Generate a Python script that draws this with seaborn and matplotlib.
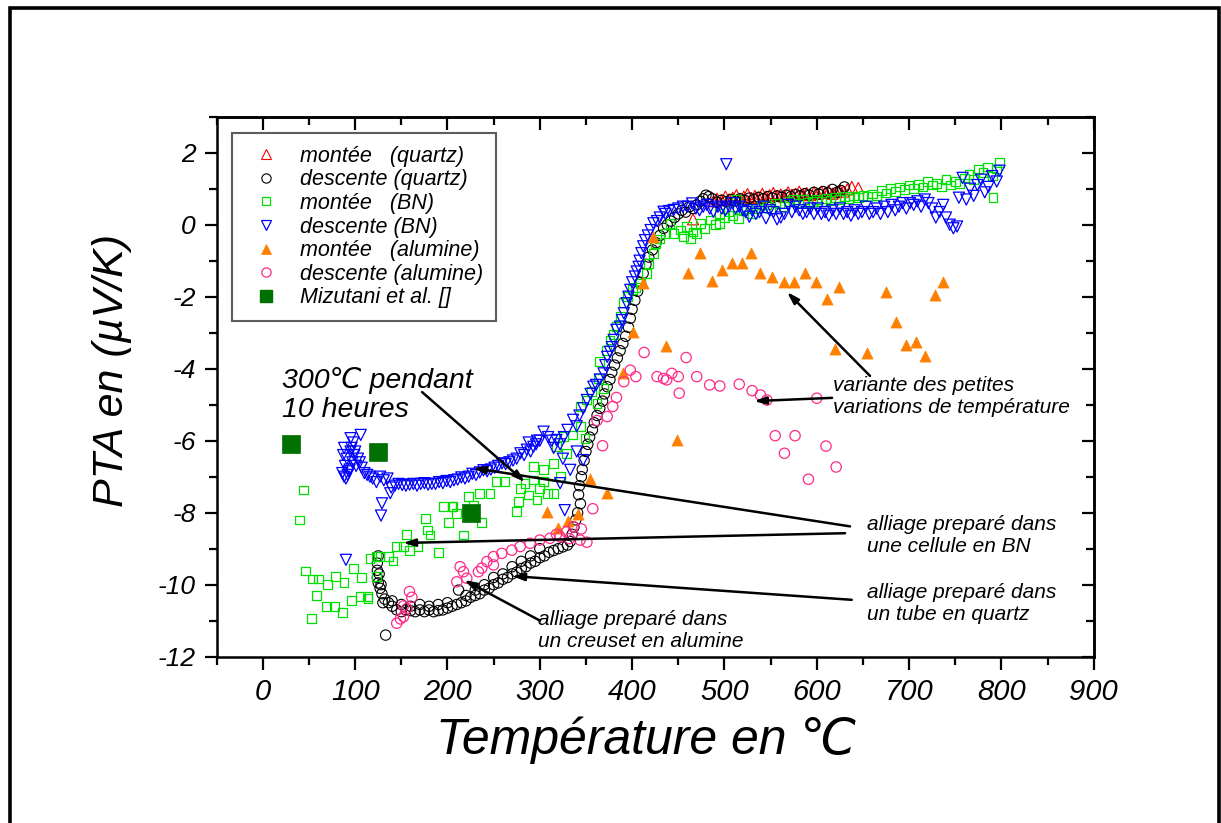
import numpy as np
import pandas as pd
import matplotlib
matplotlib.use('Agg')
import matplotlib.pyplot as plt
import seaborn as sns
from matplotlib.lines import Line2D
from matplotlib.patches import Rectangle
from matplotlib.ticker import MultipleLocator, FixedLocator
from matplotlib import font_manager as fm

# ---------------- data ----------------
mq_x = [466, 488, 492, 497, 501, 505, 509, 513, 517, 521, 525, 529, 533, 537, 541, 545, 549, 553, 557, 561,
        565, 569, 573, 577, 581, 585, 589, 593, 597, 601, 605, 609, 613, 617, 621, 625, 629, 633, 638, 645]
mq_y = [0.15, 0.65, 0.72, 0.68, 0.78, 0.70, 0.75, 0.82, 0.72, 0.78, 0.85, 0.74, 0.80, 0.76, 0.86, 0.78, 0.82, 0.88, 0.80, 0.84,
        0.78, 0.90, 0.83, 0.86, 0.92, 0.84, 0.88, 0.82, 0.90, 0.86, 0.92, 0.88, 0.94, 0.86, 0.90, 0.96, 0.92, 0.98, 1.05, 1.02]

dq_x = [630, 626, 622, 617, 612, 607, 602, 597, 592, 587, 582, 577, 572, 567, 562, 557, 552, 547, 542, 537,
        532, 527, 522, 517, 512, 507, 502, 497, 492, 487, 483, 480, 477, 474,
        470, 466, 462, 458, 454, 450, 446, 442, 438, 434, 430, 426, 422, 418, 415, 412, 409, 406, 403, 400,
        398, 396, 393, 390, 387, 384, 381, 378, 376, 373, 370, 368, 365, 362, 359, 357, 354, 352, 350, 348,
        346, 345, 343, 342, 344, 341, 339, 337, 335, 333,
        330, 325, 320, 315, 310, 305, 300, 295, 290, 285, 280, 275, 270, 265, 260, 255, 250, 245, 240, 235,
        230, 225, 220, 215, 210, 205, 200, 195, 190, 185, 180, 175, 170, 165, 160, 155, 150, 145, 140, 136,
        132, 129, 127, 125, 124, 124, 124, 125, 133,
        300, 290, 280, 270, 260, 250, 240, 230, 220, 212, 200, 190, 180, 170, 160, 150, 140, 130, 128, 126]
dq_y = [1.05, 0.95, 0.90, 0.98, 0.88, 0.92, 0.85, 0.90, 0.82, 0.86, 0.80, 0.84, 0.78, 0.82, 0.76, 0.80, 0.74, 0.78, 0.72, 0.76,
        0.70, 0.74, 0.68, 0.72, 0.66, 0.70, 0.64, 0.68, 0.62, 0.72, 0.78, 0.82, 0.72, 0.65,
        0.55, 0.45, 0.50, 0.35, 0.40, 0.30, 0.20, 0.10, 0.00, -0.10, -0.30, -0.50, -0.70, -0.90, -1.10, -1.35, -1.60, -1.85, -2.10, -2.35,
        -2.60, -2.85, -3.10, -3.30, -3.50, -3.70, -3.90, -4.10, -4.30, -4.50, -4.70, -4.90, -5.10, -5.30, -5.50, -5.70, -5.90, -6.10, -6.30, -6.55,
        -6.80, -7.00, -7.25, -7.50, -7.75, -8.00, -8.20, -8.40, -8.60, -8.80,
        -8.90, -8.95, -9.00, -9.05, -9.10, -9.20, -9.25, -9.35, -9.40, -9.50, -9.55, -9.65, -9.70, -9.80, -9.85, -9.95, -10.00, -10.10, -10.15, -10.25,
        -10.30, -10.35, -10.45, -10.50, -10.55, -10.60, -10.65, -10.70, -10.72, -10.75, -10.70, -10.75, -10.70, -10.75, -10.72, -10.70, -10.75, -10.70, -10.60, -10.50,
        -10.40, -10.25, -10.10, -9.95, -9.80, -9.60, -9.40, -9.20, -11.40,
        -9.00, -9.20, -9.35, -9.50, -9.70, -9.80, -10.00, -10.15, -10.30, -10.15, -10.50, -10.55, -10.60, -10.55, -10.60, -10.55, -10.45, -10.50, -10.00, -9.70]

mbn_x = [44, 40, 46, 54, 60, 70, 79, 88, 58, 69, 78, 86, 53, 96, 106, 114, 98, 107, 116, 123,
         123, 113, 127, 136, 141, 145, 152, 159, 168, 190, 156, 178, 181, 176, 196, 205, 201, 210, 217, 237,
         228, 223, 206, 235, 246, 253, 262, 275, 277, 288, 297, 300, 308, 315, 322, 293, 304, 315, 318, 326,
         335, 329, 344, 349, 279, 284, 293, 304, 344, 351, 356, 362, 364, 369, 365, 372, 376, 380, 383, 387,
         391, 395, 400, 404, 409, 416, 418, 423, 425, 430, 436, 441, 445, 452, 456, 459, 463, 466, 470, 474,
         478, 485, 490, 495, 495, 500, 504, 509, 513, 515, 520, 524, 530, 535, 540, 546, 550, 555, 560, 565,
         570, 575, 580, 586, 590, 596, 600, 605, 610, 615, 620, 625, 630, 635, 640, 645, 650, 655, 660, 665,
         670, 675, 680, 685, 690, 695, 700, 705, 710, 715, 720, 725, 730, 735, 740, 745, 750, 755, 760, 765,
         770, 775, 780, 785, 790, 791, 795, 798]
mbn_y = [-7.37, -8.20, -9.62, -9.84, -9.84, -9.99, -9.78, -9.93, -10.30, -10.60, -10.60, -10.77, -10.93, -10.43, -10.33, -10.38, -9.54, -9.79, -9.27, -9.22,
         -9.78, -10.33, -9.22, -9.22, -9.34, -8.94, -8.94, -9.06, -8.94, -9.10, -8.60, -8.48, -8.62, -8.16, -7.83, -7.83, -8.28, -8.02, -8.62, -8.28,
         -7.79, -7.56, -7.83, -7.46, -7.46, -7.14, -7.14, -7.97, -7.69, -7.51, -7.65, -7.32, -7.46, -7.46, -7.00, -6.72, -6.81, -6.63, -6.17, -5.89,
         -5.84, -6.35, -5.61, -5.93, -7.32, -7.18, -7.09, -7.14, -5.06, -4.87, -4.64, -4.96, -4.27, -4.54, -3.81, -3.50, -3.20, -3.06, -2.83, -2.55,
         -2.16, -2.00, -1.80, -1.75, -1.63, -1.35, -1.07, -0.79, -0.52, -0.40, -0.24, 0.04, -0.24, -0.15, -0.33, -0.06, -0.38, -0.20, -0.24, 0.04,
         -0.10, 0.13, 0.00, 0.04, 0.32, 0.20, 0.36, 0.25, 0.69, 0.18, 0.40, 0.46, 0.30, 0.46, 0.55, 0.55, 0.45, 0.60, 0.59, 0.50,
         0.65, 0.69, 0.60, 0.69, 0.62, 0.64, 0.70, 0.65, 0.72, 0.68, 0.75, 0.70, 0.78, 0.72, 0.80, 0.75, 0.82, 0.78, 0.85, 0.80,
         0.95, 0.88, 1.00, 0.92, 1.05, 0.98, 1.10, 1.00, 1.12, 1.05, 1.20, 1.10, 1.15, 1.05, 1.25, 1.10, 1.20, 1.15, 1.30, 1.40,
         1.25, 1.55, 1.45, 1.60, 1.35, 0.76, 1.55, 1.72]

dbn_x = [798, 795, 790, 786, 782, 778, 774, 770, 766, 762, 758, 754, 752, 748, 744, 740, 737, 733, 729, 725,
         721, 717, 713, 709, 705, 701, 697, 693, 689, 685, 681, 677, 673, 669, 665, 661, 657, 653, 649, 645,
         641, 637, 633, 629, 625, 621, 617, 613, 609, 605, 601, 597, 593, 589, 585, 581, 577, 573, 569, 565,
         561, 557, 553, 549, 545, 542, 538, 534, 530, 527, 523, 520, 516, 512, 509, 505, 501, 497, 493, 488,
         484, 481, 477, 473, 469, 465, 460, 455, 450, 445, 440, 436, 434, 430, 427, 423, 420, 417, 414, 412,
         410, 408, 407, 405, 403, 400, 398, 396, 394, 391, 389, 387, 383, 380, 378, 376, 373, 371, 369, 365,
         361, 358, 355, 351, 347, 343, 336, 340, 330, 326, 322, 318, 313, 309, 304, 300, 296, 293, 290, 286,
         283, 279, 275, 271, 267, 263, 259, 255, 251, 247, 243, 239, 235, 231, 227, 223, 219, 215, 211, 207,
         203, 199, 195, 191, 187, 183, 179, 175, 171, 167, 163, 159, 155, 151, 147, 143, 139, 135, 131, 127,
         123, 119, 116, 113, 110, 107, 105, 103, 101, 99, 97, 95, 93, 91, 89, 88, 87, 86, 88, 90,
         92, 94, 96, 98, 100, 106, 95, 138, 129, 128, 90, 347, 333, 322, 327, 502, 315, 340, 325, 288, 297]
dbn_y = [1.50, 1.20, 1.35, 1.05, 0.90, 1.25, 1.10, 0.80, 1.00, 0.70, 1.30, 0.75, -0.05, -0.10, 0.00, 0.20, 0.55, 0.35, 0.20, 0.45,
         0.60, 0.70, 0.50, 0.65, 0.55, 0.60, 0.45, 0.60, 0.50, 0.40, 0.55, 0.35, 0.50, 0.30, 0.45, 0.35, 0.30, 0.50, 0.35, 0.30,
         0.40, 0.25, 0.35, 0.30, 0.45, 0.30, 0.40, 0.25, 0.35, 0.30, 0.45, 0.30, 0.45, 0.35, 0.30, 0.40, 0.50, 0.35, 0.55, 0.30,
         0.20, 0.15, 0.35, 0.40, 0.18, 0.50, 0.35, 0.30, 0.40, 0.22, 0.35, 0.40, 0.50, 0.45, 0.60, 0.50, 0.40, 0.45, 0.50, 0.36,
         0.45, 0.55, 0.50, 0.40, 0.45, 0.59, 0.50, 0.50, 0.45, 0.41, 0.38, 0.30, 0.36, 0.20, 0.10, 0.04, -0.15, -0.30, -0.43, -0.60,
         -0.79, -1.00, -1.17, -1.30, -1.44, -1.60, -1.81, -2.00, -2.18, -2.46, -2.65, -2.83, -2.92, -3.20, -3.40, -3.53, -3.67, -3.90, -4.13, -4.30,
         -4.45, -4.50, -4.70, -4.87, -5.10, -5.30, -5.42, -5.60, -5.70, -5.90, -6.10, -5.98, -6.00, -5.90, -5.75, -6.00, -6.10, -6.17, -6.30, -6.25,
         -6.40, -6.35, -6.50, -6.55, -6.60, -6.65, -6.63, -6.70, -6.75, -6.80, -6.85, -6.82, -6.88, -6.95, -6.92, -7.00, -7.05, -7.02, -7.08, -7.10,
         -7.15, -7.12, -7.18, -7.15, -7.20, -7.20, -7.22, -7.18, -7.20, -7.25, -7.20, -7.22, -7.25, -7.23, -7.20, -7.25, -7.30, -7.05, -7.10, -7.00,
         -7.15, -7.05, -7.00, -6.95, -6.90, -6.75, -6.60, -6.50, -6.70, -6.40, -6.60, -6.30, -6.85, -6.50, -6.70, -6.20, -6.40, -6.90, -7.00, -7.05,
         -6.95, -6.80, -6.20, -6.05, -6.30, -5.84, -5.93, -7.46, -7.74, -8.08, -9.31, -6.54, -6.81, -7.18, -7.93, 1.68, -6.20, -6.30, -6.50, -6.05, -6.00]

ma_x = [423, 411.5, 474, 461, 487, 497, 508, 519, 528.5, 538.6, 552, 564, 575, 587, 599, 611, 624.5, 675, 728, 736.5,
        400.7, 436.5, 390, 449, 354.5, 372.6, 308.3, 341.8, 331, 320.2, 686, 620, 654, 697, 707, 717]
ma_y = [-0.33, -1.63, -0.78, -1.35, -1.56, -1.26, -1.05, -1.05, -0.79, -1.33, -1.44, -1.58, -1.58, -1.33, -1.60, -2.06, -1.72, -1.86, -1.95, -1.60,
        -2.97, -3.37, -4.13, -5.98, -7.07, -7.46, -7.99, -8.04, -8.22, -8.43, -2.70, -3.45, -3.55, -3.35, -3.25, -3.65]

da_x = [413, 458.5, 398, 404, 391, 427, 434, 437.5, 443, 450, 451, 470, 484, 495, 516, 530, 539, 546, 600, 555,
        576.5, 565, 591, 610, 621, 383, 379, 373, 362, 368, 357.4, 336.4, 351, 343.7, 332, 322, 311, 300, 289.5, 278.7,
        269.7, 258.8, 249.8, 242.6, 249.8, 237.2, 233.5, 213.7, 217.3, 220.9, 210.1, 158.8, 161.4, 152.3, 156, 152.3, 145, 149, 329, 318, 345]
da_y = [-3.55, -3.69, -4.04, -4.22, -4.36, -4.22, -4.27, -4.31, -4.13, -4.22, -4.68, -4.22, -4.45, -4.48, -4.43, -4.61, -4.73, -4.87, -4.82, -5.86,
        -5.86, -6.35, -7.07, -6.15, -6.73, -4.80, -5.05, -5.33, -5.44, -6.14, -7.89, -8.39, -8.82, -8.76, -8.72, -8.67, -8.71, -8.76, -8.85, -8.94,
        -9.04, -9.13, -9.22, -9.36, -9.45, -9.54, -9.64, -9.50, -9.64, -9.82, -9.92, -10.19, -10.35, -10.59, -10.66, -10.89, -11.07, -10.95, -8.53, -8.60, -8.45]

miz_x = [30, 125, 225]
miz_y = [-6.1, -6.3, -8.0]

labels = ['montée   (quartz)', 'descente (quartz)', 'montée   (BN)', 'descente (BN)',
          'montée   (alumine)', 'descente (alumine)', 'Mizutani et al. []']
x_ticks = [0, 100, 200, 300, 400, 500, 600, 700, 800, 900]
y_ticks = [-12, -10, -8, -6, -4, -2, 0, 2]

# ---------------- style ----------------
sns.set_style('ticks')


def has_font(name):
    try:
        fm.findfont(fm.FontProperties(family=name), fallback_to_default=False)
        return True
    except Exception:
        return False


SANS = 'Liberation Sans' if has_font('Liberation Sans') else 'DejaVu Sans'
NARROW = 'Liberation Sans Narrow' if has_font('Liberation Sans Narrow') else SANS
plt.rcParams['font.family'] = [SANS, 'DejaVu Sans']
plt.rcParams['font.style'] = 'italic'
plt.rcParams['axes.unicode_minus'] = False
for k in ['text.color', 'axes.labelcolor', 'xtick.color', 'ytick.color', 'axes.edgecolor']:
    plt.rcParams[k] = 'black'

fig = plt.figure(figsize=(12.21, 8.23), dpi=100)
ax = fig.add_axes([216.7 / 1221, 1 - 656.7 / 823, (1093.7 - 216.7) / 1221, (656.7 - 116.7) / 823])

series = [
    (mq_x, mq_y, '^', 'none', '#ff0000', 64, 0.8),
    (dq_x, dq_y, 'o', 'none', '#000000', 55, 0.8),
    (mbn_x, mbn_y, 's', 'none', '#00e000', 40, 0.9),
    (dbn_x, dbn_y, 'v', 'none', '#0000ff', 64, 0.9),
    (ma_x, ma_y, '^', '#ff8000', '#ff8000', 64, 0.5),
    (da_x, da_y, 'o', 'none', '#ff2a8a', 55, 0.9),
    (miz_x, miz_y, 's', '#007000', '#007000', 170, 0.5),
]
for i, (xs, ys, m, fc, ec, s, lw) in enumerate(series):
    df = pd.DataFrame({'T': xs, 'PTA': ys})
    sns.scatterplot(data=df, x='T', y='PTA', ax=ax, marker=m, s=s, color=ec,
                    facecolor=fc, edgecolor=ec, linewidth=lw, legend=False, zorder=3 + i)

ax.set_xlim(-50, 900)
ax.set_ylim(-12, 3)
ax.xaxis.set_major_locator(FixedLocator(x_ticks))
ax.xaxis.set_minor_locator(MultipleLocator(50))
ax.yaxis.set_major_locator(FixedLocator(y_ticks))
ax.yaxis.set_minor_locator(MultipleLocator(1))
ax.set_xticklabels([str(v) for v in x_ticks], fontfamily=[NARROW, 'DejaVu Sans'], fontsize=21, style='italic')
ax.set_yticklabels([str(v) for v in y_ticks], fontsize=19, style='italic')
ax.tick_params(which='major', direction='out', length=9, width=1.6, pad=6, colors='black')
ax.tick_params(which='minor', direction='out', length=5.5, width=1.6, colors='black')
for sp in ax.spines.values():
    sp.set_visible(True)
    sp.set_linewidth(1.8)
    sp.set_color('black')

sec_x = ax.secondary_xaxis('top')
sec_x.xaxis.set_major_locator(FixedLocator(x_ticks))
sec_x.xaxis.set_minor_locator(MultipleLocator(50))
sec_x.tick_params(which='major', direction='in', length=9, width=1.6, labeltop=False, colors='black')
sec_x.tick_params(which='minor', direction='in', length=5.5, width=1.6, colors='black')
sec_x.spines['top'].set_linewidth(1.8)
sec_y = ax.secondary_yaxis('right')
sec_y.yaxis.set_major_locator(FixedLocator(y_ticks))
sec_y.yaxis.set_minor_locator(MultipleLocator(1))
sec_y.tick_params(which='major', direction='in', length=9, width=1.6, labelright=False, colors='black')
sec_y.tick_params(which='minor', direction='in', length=5.5, width=1.6, colors='black')
sec_y.spines['right'].set_linewidth(1.8)

ax.set_xlabel('Température en ℃', fontsize=36, fontfamily=[NARROW, 'DejaVu Sans'], style='italic', color='black')
ax.xaxis.set_label_coords(0.4895, -0.154)
ax.xaxis.label.set_va('center')
ax.set_ylabel('PTA en (µV/K)', fontsize=31, style='italic', color='black')
ax.yaxis.set_label_coords(-0.119, 0.531)
ax.yaxis.label.set_va('center')

# legend
handles = []
for (xs, ys, m, fc, ec, s, lw), lab in zip(series, labels):
    handles.append(Line2D([], [], linestyle='none', marker=m, markersize=np.sqrt(s) * 0.9,
                          markerfacecolor=fc, markeredgecolor=ec, markeredgewidth=lw))
handles[-1] = Line2D([], [], linestyle='none', marker='s', markersize=9,
                     markerfacecolor='#007000', markeredgecolor='#007000')
leg = ax.legend(handles, labels, loc='upper left', bbox_to_anchor=(0.0174, 0.970), borderaxespad=0,
                fontsize=15.5, frameon=True, fancybox=False, shadow=False, borderpad=0.6,
                handlelength=2.0, handletextpad=0.55, labelspacing=0.12, numpoints=1)
leg.get_frame().set_edgecolor('#333333')
leg.get_frame().set_linewidth(1.5)
for t in leg.get_texts():
    t.set_color('black')
leg.set_zorder(20)

# annotations
akw = dict(arrowstyle='-|>,head_length=0.7,head_width=0.22', color='black', lw=1.8,
           shrinkA=0, shrinkB=0)
ax.annotate('', xy=(284.1, -7.15), xytext=(172.5, -4.65), arrowprops=akw, zorder=15)
ax.annotate('', xy=(227.8, -6.76), xytext=(636.1, -8.38), arrowprops=akw, zorder=15)
ax.annotate('', xy=(151.9, -8.84), xytext=(630.7, -8.57), arrowprops=akw, zorder=15)
ax.annotate('', xy=(270.0, -9.76), xytext=(637.9, -10.42), arrowprops=akw, zorder=15)
ax.annotate('', xy=(218.0, -9.87), xytext=(300.3, -11.0), arrowprops=akw, zorder=15)
ax.annotate('', xy=(567.8, -1.87), xytext=(657.7, -4.2), arrowprops=akw, zorder=15)
ax.annotate('', xy=(532.0, -4.90), xytext=(616.6, -4.81), arrowprops=akw, zorder=15)

ax.text(20.6, -3.94, '300℃ pendant\n10 heures', fontsize=20.5, va='top', ha='left', color='black',
        linespacing=1.15, zorder=16, family=[SANS, 'DejaVu Sans'])
ax.text(654.1, -8.07, 'alliage preparé dans\nune cellule en BN', fontsize=15, va='top', ha='left', zorder=16, color='black')
ax.text(654.1, -9.95, 'alliage preparé dans\nun tube en quartz', fontsize=15, va='top', ha='left', zorder=16, color='black')
ax.text(298.5, -10.7, 'alliage preparé dans\nun creuset en alumine', fontsize=15, va='top', ha='left', zorder=16, color='black')
ax.text(617.7, -4.2, 'variante des petites\nvariations de température', fontsize=15, va='top', ha='left', zorder=16, color='black')

# outer frame
fig.patches.append(Rectangle((10 / 1221, -0.05), (1219 - 10) / 1221, 1.05 - 8 / 823,
                             transform=fig.transFigure, fill=False, lw=2.6, edgecolor='black',
                             clip_on=False))

fig.savefig('out.png', dpi=100)
